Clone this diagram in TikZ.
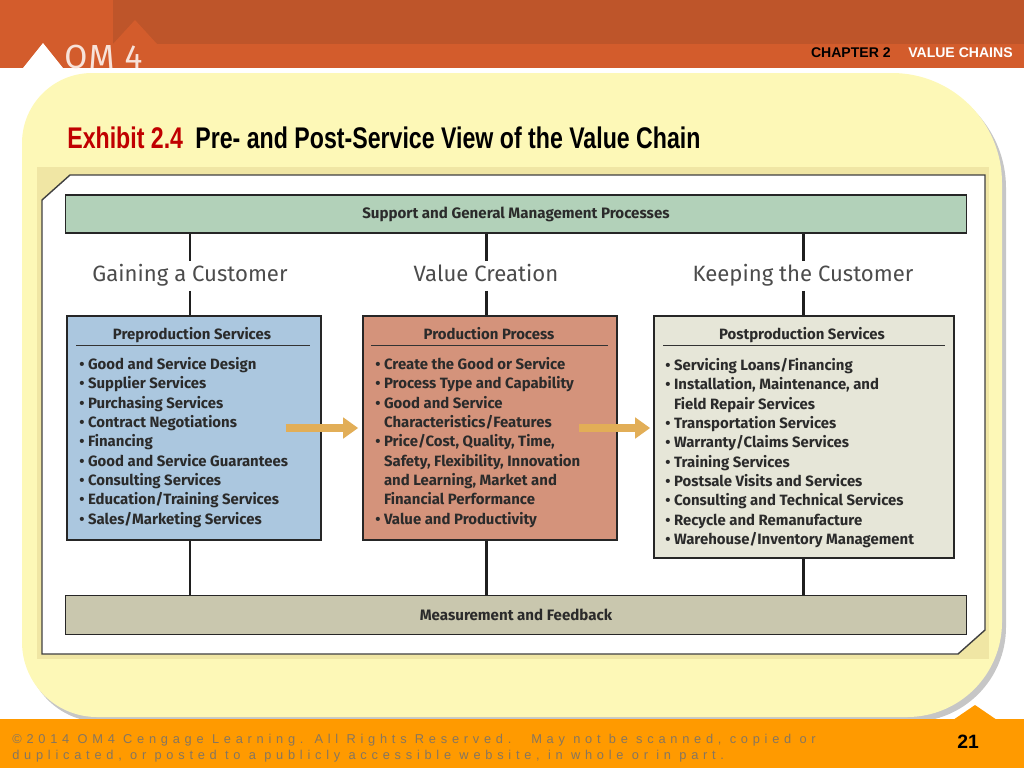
\documentclass[tikz,border=0pt]{standalone}
\usepackage{fontspec}
\setmainfont{Liberation Sans}
\newfontfamily\titlefont[FakeStretch=0.775]{Liberation Sans}
\newfontfamily\boxfont{Fira Sans}
\usetikzlibrary{arrows.meta}
\usetikzlibrary{calc,positioning}

\definecolor{bandlight}{HTML}{D35C2C}
\definecolor{banddark}{HTML}{BE552A}
\definecolor{panelyellow}{HTML}{FDF8B7}
\definecolor{stripyellow}{HTML}{F0E6A4}
\definecolor{supgreen}{HTML}{B2D1B9}
\definecolor{measgray}{HTML}{C9C7AE}
\definecolor{preblue}{HTML}{ABC7DF}
\definecolor{prored}{HTML}{D4937B}
\definecolor{postgray}{HTML}{E6E6D8}
\definecolor{arrowgold}{HTML}{E2AE57}
\definecolor{footorange}{HTML}{FF9A00}
\definecolor{foottext}{HTML}{857660}
\definecolor{exhibitred}{HTML}{C00000}
\definecolor{boxtext}{HTML}{2B2B2B}

\newcommand{\itemdot}{\textbullet\ }
\newcommand{\itemgap}{\hphantom{\textbullet\ }}

\begin{document}
\begin{tikzpicture}[x=0.02cm, y=-0.02cm,
    bar/.style={draw=black!85, line width=1pt, minimum width=18.02cm, inner sep=0pt,
        font=\boxfont\bfseries\fontsize{8.6}{10}\selectfont, text=boxtext},
    stagebox/.style={draw=black!85, line width=1pt, minimum height=4.48cm, inner sep=0pt},
    boxtitle/.style={anchor=base, inner sep=0pt, font=\boxfont\bfseries\fontsize{8.5}{10}\selectfont, text=boxtext},
    boxlist/.style={anchor=north west, inner sep=0pt, align=left,
        font=\boxfont\bfseries\fontsize{8.5}{11}\selectfont, text=boxtext},
    phase/.style={inner xsep=1pt, inner ysep=2pt, text height=9.6pt, text depth=3pt,
        font=\boxfont\fontsize{12.6}{14}\selectfont, text=black!70},
    link/.style={line width=1.7pt, black!88},
    rule/.style={black!80, line width=0.6pt},
    flow/.style={arrowgold, line width=4pt, -{Triangle[length=8.5pt,width=11.5pt]}},
    foot/.style={anchor=base west, inner sep=0pt, text=foottext,
        font=\fontsize{7.3}{8}\selectfont\addfontfeature{LetterSpace=37}}]

    \useasboundingbox (0,0) rectangle (1024,768);

    \fill[bandlight] (0,0) rectangle (1024,68);
    \fill[banddark] (113,0) rectangle (1024,44);
    \fill[bandlight] (113,44) -- (135,20) -- (157,44) -- cycle;
    \fill[white] (23,68) -- (43,43) -- (63,68) -- cycle;
    \node[anchor=base west, inner sep=0pt, text=white!82!bandlight,
        font=\boxfont\fontsize{19}{19}\selectfont\addfontfeature{LetterSpace=4}] (brand) at (64,68) {OM 4};
    \node[anchor=base east, inner sep=0pt, font=\bfseries\fontsize{8}{8}\selectfont] (chapter) at (1013,57)
        {CHAPTER 2\hspace{10pt}\textcolor{white}{VALUE CHAINS}};

    \foreach \dx/\dy/\col in {4/5/gray!45, 0/0/panelyellow}
        \fill[\col, shift={(\dx,\dy)}] (22,400) [rounded corners=1.4cm] -- (22,73) -- (512,73)
            [rounded corners=2.2cm] -- (1002,73) -- (1002,400)
            [rounded corners=1.9cm] -- (1002,717) -- (512,717)
            [rounded corners=1.5cm] -- (22,717) -- cycle;

    \node[anchor=base west, inner sep=0pt, font=\titlefont\bfseries\fontsize{17}{17}\selectfont] (title) at (67,148)
        {\textcolor{exhibitred}{Exhibit 2.4}\hspace{7pt}Pre- and Post-Service View of the Value Chain};

    \fill[stripyellow] (37,167) rectangle (989,659);
    \draw[black!75, line width=0.8pt, fill=white] (42,200) -- (70,175) -- (985,175) -- (985,630) -- (958,654) -- (42,654) -- cycle;

    \node[bar, fill=supgreen, minimum height=0.76cm] (support) at (516,214) {Support and General Management Processes};
    \node[bar, fill=measgray, minimum height=0.78cm] (measure) at (516,615) {Measurement and Feedback};

    \node[phase] (gain) at (190,276) {Gaining a Customer};
    \node[phase] (value) at (486,276) {Value Creation};
    \node[phase] (keep) at (803,276) {Keeping the Customer};

    \node[stagebox, fill=preblue, minimum width=5.08cm] (prebox) at (194,428) {};
    \node[stagebox, fill=prored, minimum width=5.08cm] (probox) at (490,428) {};
    \node[stagebox, fill=postgray, minimum width=6cm, minimum height=4.84cm] (postbox) at (804,437) {};

    \foreach \stage/\stagenode in {gain/prebox, value/probox, keep/postbox} {
        \draw[link] (support.south -| \stage) -- (\stage.north);
        \draw[link] (\stage.south) -- (\stagenode.north -| \stage);
        \draw[link] (\stagenode.south -| \stage) -- (measure.north -| \stage);
    }

    \node[boxtitle] (pretitle) at (192,339) {Preproduction Services};
    \node[boxtitle] (protitle) at (489,339) {Production Process};
    \node[boxtitle] (posttitle) at (802,339) {Postproduction Services};
    \draw[rule] ($(prebox.north west)+(10,30)$) -- ($(prebox.north east)+(-12,30)$);
    \draw[rule] ($(probox.north west)+(9,30)$) -- ($(probox.north east)+(-10,30)$);
    \draw[rule] ($(postbox.north west)+(10,30)$) -- ($(postbox.north east)+(-10,30)$);

    \node[boxlist] (prelist) at (79,357) {\itemdot Good and Service Design\\
        \itemdot Supplier Services\\
        \itemdot Purchasing Services\\
        \itemdot Contract Negotiations\\
        \itemdot Financing\\
        \itemdot Good and Service Guarantees\\
        \itemdot Consulting Services\\
        \itemdot Education/Training Services\\
        \itemdot Sales/Marketing Services};
    \node[boxlist] (prolist) at (375,357) {\itemdot Create the Good or Service\\
        \itemdot Process Type and Capability\\
        \itemdot Good and Service\\
        \itemgap Characteristics/Features\\
        \itemdot Price/Cost, Quality, Time,\\
        \itemgap Safety, Flexibility, Innovation\\
        \itemgap and Learning, Market and\\
        \itemgap Financial Performance\\
        \itemdot Value and Productivity};
    \node[boxlist] (postlist) at (665,358) {\itemdot Servicing Loans/Financing\\
        \itemdot Installation, Maintenance, and\\
        \itemgap Field Repair Services\\
        \itemdot Transportation Services\\
        \itemdot Warranty/Claims Services\\
        \itemdot Training Services\\
        \itemdot Postsale Visits and Services\\
        \itemdot Consulting and Technical Services\\
        \itemdot Recycle and Remanufacture\\
        \itemdot Warehouse/Inventory Management};

    \draw[flow] ($(prebox.east)+(-36,0)$) -- ($(probox.west)+(-4,0)$);
    \draw[flow] ($(probox.east)+(-39,0)$) -- ($(probox.east -| postbox.west)+(-3,0)$);

    \fill[footorange] (0,719) rectangle (1024,768);
    \fill[footorange] (953,720) -- (975,705) -- (997,720) -- cycle;
    \node[foot] (copyline) at (12,743) {©2014 OM4 Cengage Learning. All Rights Reserved.\hspace{5pt} May not be scanned, copied or};
    \node[foot] (copyrest) at (12,759) {duplicated, or posted to a publicly accessible website, in whole or in part.};
    \node[font=\bfseries\fontsize{11}{11}\selectfont] (pagenum) at (968,742) {21};

\end{tikzpicture}
\end{document}
